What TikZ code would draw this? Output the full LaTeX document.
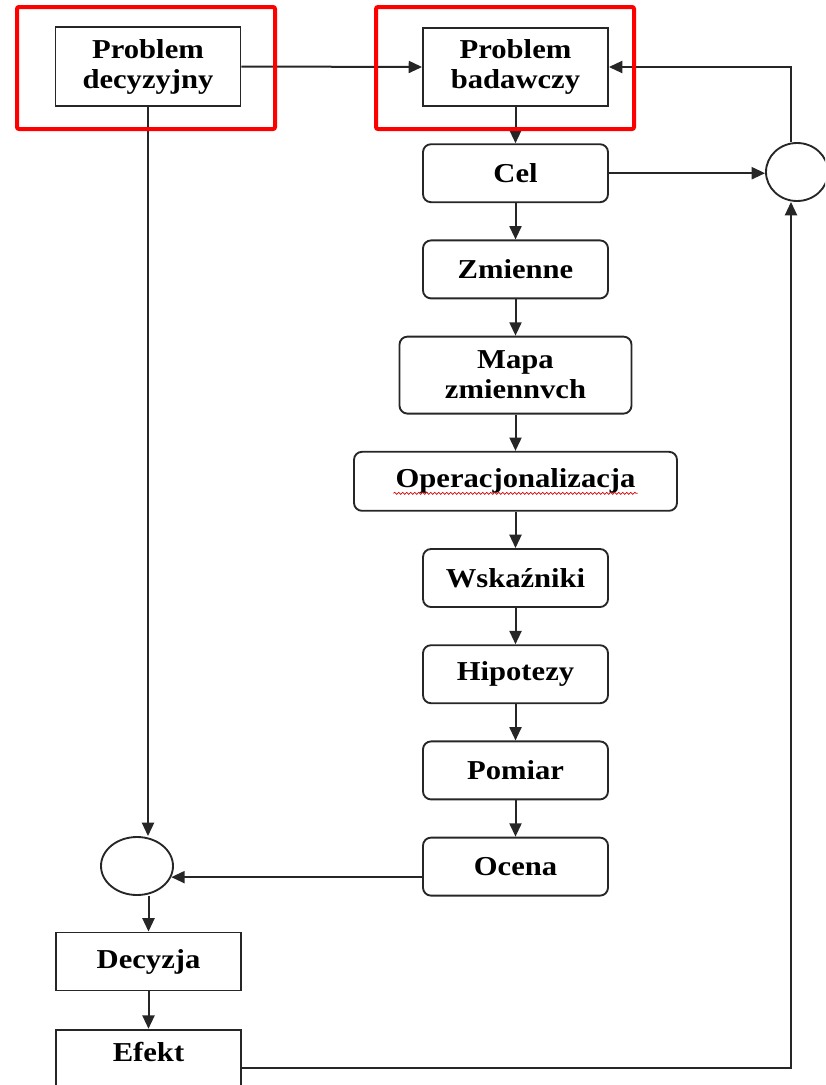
\documentclass[tikz,border=0pt]{standalone}
\usepackage{fontspec}
\setmainfont{Liberation Serif}[FakeStretch=1.12]
\usetikzlibrary{arrows.meta, positioning, calc, shapes.geometric, decorations.pathmorphing}

\begin{document}
\begin{tikzpicture}[x=0.75pt, y=-0.75pt, node distance=27.25pt,
        font=\fontsize{20.5pt}{22.5pt}\selectfont\bfseries,
        blok/.style={draw=black!85, line width=1.4pt, fill=white, align=center,
                minimum width=138.75pt, minimum height=43.5pt, inner sep=2pt},
        krok/.style={blok, rounded corners=6pt},
        wezel/.style={draw=black!85, line width=1.4pt, ellipse, minimum height=43.5pt},
        strz/.style={draw=black!85, line width=1.5pt, -{Triangle[length=10pt,width=9pt]}},
        ramka/.style={draw=red, line width=3pt, rounded corners=1.5pt}]
        \useasboundingbox (0,0) rectangle (825,1085);
        \clip (0,0) rectangle (825,1085);
        \node[blok, minimum height=59.25pt] (pd) at (148,66.5) {Problem\\decyzyjny};
        \node[blok, minimum height=58.5pt] (pb) at (515.5,67) {Problem\\badawczy};
        \node[krok, below=of pb] (cel) {Cel};
        \node[krok, below=of cel] (zm) {Zmienne};
        \node[krok, below=of zm, minimum width=174pt, minimum height=57.75pt] (mapa) {Mapa\\zmiennvch};
        \node[krok, below=of mapa, minimum width=242.25pt, minimum height=44.25pt] (op) {Operacjonalizacja};
        \node[krok, below=of op] (wsk) {Wskaźniki};
        \node[krok, below=of wsk] (hip) {Hipotezy};
        \node[krok, below=of hip] (pom) {Pomiar};
        \node[krok, below=of pom] (oc) {Ocena};
        \node[wezel, minimum width=54pt] (lc) at (137,866) {};
        \node[wezel, minimum width=46.5pt] (rc) at (797,172) {};
        \node[blok] (dec) at (148.5,961.5) {Decyzja};
        \node[blok, below=28pt of dec, text depth=10pt] (ef) {Efekt};
        \coordinate (rb) at (791,1068);
        % spell-check underline
        \draw[red!85!black, line width=0.5pt, decorate, decoration={snake, amplitude=0.8pt, segment length=3pt}]
                ($(op.center)+(-122,12)$) -- ($(op.center)+(122,12)$);
        \foreach \a/\b in {pb/cel, cel/zm, zm/mapa, mapa/op, op/wsk, wsk/hip, hip/pom, pom/oc}
                \draw[strz] (\a) -- (\b);
        \draw[strz] (pd.east) -- (pb.west);
        \draw[strz] (cel.east) -- (cel.east -| rc.west);
        \draw[strz] (rb |- rc.north) -- (rb |- pb.east) -- (pb.east);
        \draw[strz] (pd.south) -- (pd.south |- lc.north);
        \draw[strz] (oc.west |- lc.-18) -- (lc.-18);
        \draw[strz] (dec.north |- lc.south) -- (dec.north);
        \draw[strz] (dec) -- (ef);
        \draw[strz] (ef.east |- rb) -- (rb) -- (rb |- rc.south);
        \draw[ramka] (17,7) rectangle (275,129);
        \draw[ramka] (376,7) rectangle (634,129);
\end{tikzpicture}
\end{document}
